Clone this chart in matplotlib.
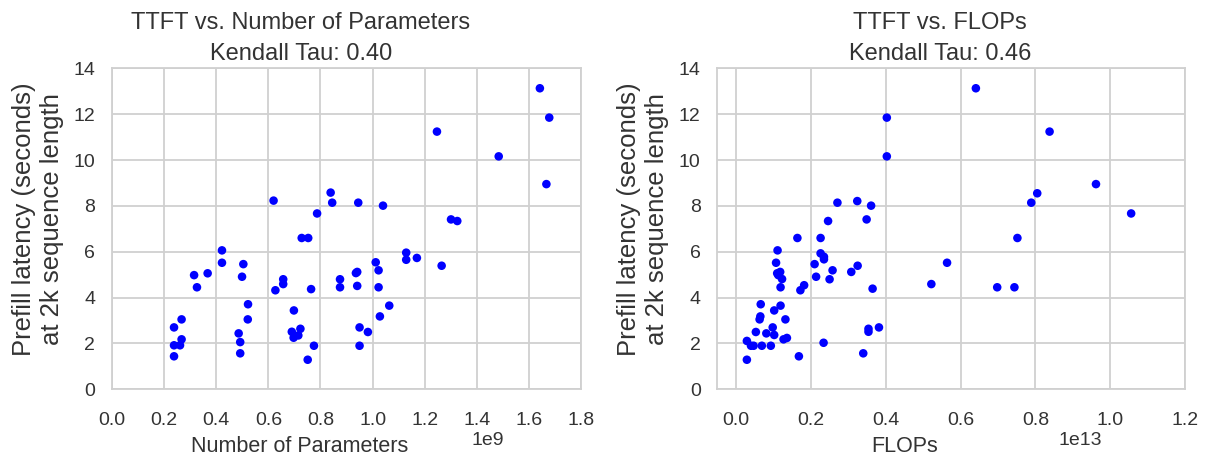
import matplotlib
matplotlib.use("Agg")
import matplotlib.pyplot as plt
from matplotlib.ticker import MultipleLocator

# ── Data ────────────────────────────────────────────────────────────
params_x = [
    0.238, 0.238, 0.261, 0.267, 0.238, 0.267, 0.315, 0.326, 0.367, 0.422,
    0.422, 0.504, 0.499, 0.522, 0.521, 0.486, 0.492, 0.492, 0.620, 0.627,
    0.657, 0.657, 0.698, 0.690, 0.697, 0.715, 0.723, 0.728, 0.753, 0.764,
    0.751, 0.775, 0.787, 0.839, 0.845, 0.875, 0.875, 0.936, 0.941, 0.945,
    0.941, 0.950, 0.950, 1.642, 1.678, 1.247, 1.484, 1.667, 1.040, 1.301,
    1.325, 1.129, 1.129, 1.170, 1.265, 1.012, 1.023, 1.023, 1.064, 1.028,
    0.982,
]
params_y = [
    1.44, 1.92, 1.92, 2.18, 2.70, 3.05, 4.98, 4.45, 5.06, 6.06,
    5.52, 5.46, 4.91, 3.71, 3.05, 2.44, 2.06, 1.57, 8.23, 4.32,
    4.80, 4.59, 3.44, 2.51, 2.25, 2.35, 2.64, 6.60, 6.60, 4.37,
    1.29, 1.90, 7.67, 8.58, 8.14, 4.80, 4.45, 5.07, 5.12, 8.14,
    4.51, 2.70, 1.90, 13.13, 11.85, 11.24, 10.16, 8.95, 8.01, 7.41,
    7.34, 5.96, 5.65, 5.73, 5.39, 5.54, 5.19, 4.45, 3.65, 3.18,
    2.50,
]

flops_x = [
    0.029, 0.029, 0.040, 0.047, 0.069, 0.093, 0.053, 0.081, 0.102, 0.098,
    0.127, 0.136, 0.132, 0.063, 0.065, 0.066, 0.102, 0.119, 0.111, 0.107,
    0.110, 0.118, 0.113, 0.123, 0.119, 0.164, 0.168, 0.172, 0.182, 0.226,
    0.226, 0.235, 0.235, 0.210, 0.214, 0.234, 0.258, 0.250, 0.246, 0.271,
    0.308, 0.325, 0.324, 0.349, 0.361, 0.365, 0.340, 0.354, 0.354, 0.382,
    0.403, 0.403, 0.522, 0.564, 0.641, 0.838, 0.962, 0.805, 0.789, 1.056,
    0.752, 0.698, 0.744,
]
flops_y = [
    1.29, 2.11, 1.90, 1.90, 1.90, 1.90, 2.50, 2.44, 2.37, 2.70,
    2.18, 2.24, 3.05, 3.05, 3.18, 3.71, 3.44, 3.65, 6.06, 5.52,
    5.06, 5.12, 4.98, 4.81, 4.45, 6.60, 1.44, 4.32, 4.54, 6.60,
    5.93, 5.78, 5.67, 5.46, 4.91, 2.03, 5.19, 4.80, 7.34, 8.14,
    5.12, 5.39, 8.21, 7.41, 8.01, 4.39, 1.57, 2.64, 2.51, 2.70,
    11.85, 10.16, 4.59, 5.52, 13.13, 11.24, 8.95, 8.55, 8.14, 7.67,
    6.60, 4.45, 4.45,
]

params_exp = 9
flops_exp = 13
tau_params = 0.40
tau_flops = 0.46

# ── Style ───────────────────────────────────────────────────────────
TEXT = "#333333"
GRID = "#d0d0d0"
plt.rcParams["font.family"] = ["Liberation Sans", "DejaVu Sans"]
plt.rcParams["text.color"] = TEXT
plt.rcParams["axes.labelcolor"] = TEXT
plt.rcParams["xtick.color"] = TEXT
plt.rcParams["ytick.color"] = TEXT

fig = plt.figure(figsize=(12.07, 4.61), dpi=100, facecolor="white")
ax1 = fig.add_axes([0.0928, 0.1555, 0.3886, 0.6963])
ax2 = fig.add_axes([0.5943, 0.1555, 0.3875, 0.6963])

panels = [
    (ax1, params_x, params_y, params_exp, "Number of Parameters",
     f"TTFT vs. Number of Parameters\nKendall Tau: {tau_params:.2f}",
     (0, 1.8), 0.403, 0.836),
    (ax2, flops_x, flops_y, flops_exp, "FLOPs",
     f"TTFT vs. FLOPs\nKendall Tau: {tau_flops:.2f}",
     (-0.05, 1.2), 0.476, 0.822),
]

for ax, xs, ys, exp, xlabel, title, xlim, title_x, offset_x in panels:
    scale = 10.0 ** exp
    ax.scatter([v * scale for v in xs], ys, s=38, color="blue", edgecolors="none", zorder=3)
    ax.set_xlim(xlim[0] * scale, xlim[1] * scale)
    ax.set_ylim(0, 14)
    ax.xaxis.set_major_locator(MultipleLocator(0.2 * scale))
    ax.set_yticks(range(0, 15, 2))
    ax.grid(True, color=GRID, linewidth=1.3)
    ax.set_axisbelow(True)
    for sp in ax.spines.values():
        sp.set_color(GRID)
        sp.set_linewidth(1.3)
    ax.tick_params(length=0, labelsize=14)
    ax.tick_params(axis="x", pad=16)
    ax.tick_params(axis="y", pad=12)

    # exponent label placed by hand, like the reference
    ax.xaxis.get_offset_text().set_visible(False)
    ax.text(offset_x, -0.158, f"1e{exp}", transform=ax.transAxes,
            ha="right", va="center", fontsize=14, color=TEXT)

    ax.set_xlabel(xlabel, fontsize=15.5)
    ax.xaxis.set_label_coords(0.40, -0.145)
    ax.set_ylabel("Prefill latency (seconds)\nat 2k sequence length", fontsize=18.5, linespacing=1.2)
    ax.yaxis.set_label_coords(-0.103, 0.53)
    ax.set_title(title, fontsize=17, linespacing=1.5, pad=6, x=title_x)

fig.savefig("out.png", dpi=100, facecolor="white")
